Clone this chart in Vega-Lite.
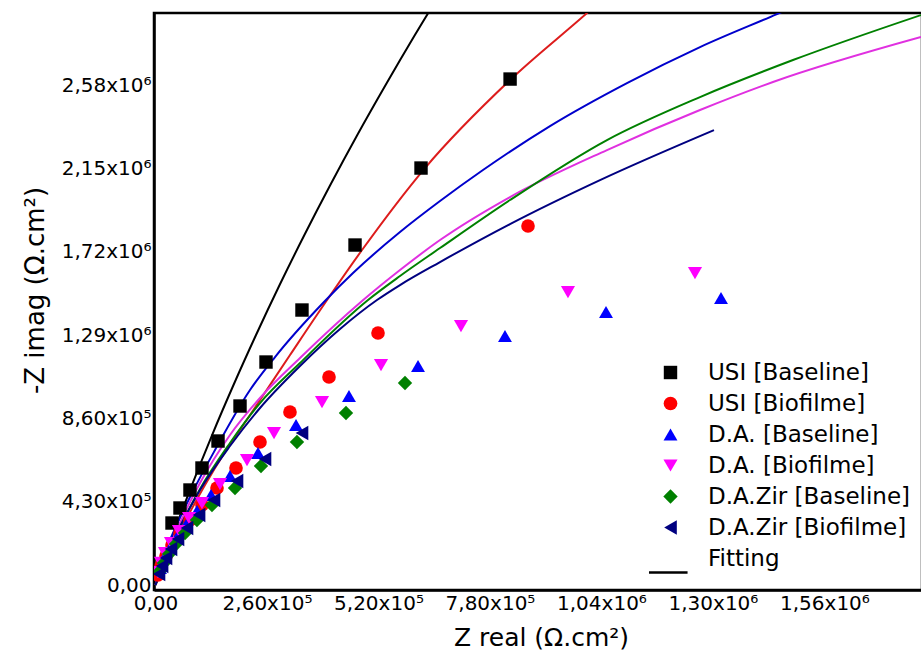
{
  "$schema": "https://vega.github.io/schema/vega-lite/v6.json",
  "width": 768,
  "height": 577,
  "autosize": {"type": "none"},
  "padding": {"left": 154, "top": 13, "right": 0, "bottom": 73},
  "background": "white",
  "config": {
    "view": {"stroke": "black", "strokeWidth": 2.5},
    "font": "DejaVu Sans",
    "axis": {
      "grid": false,
      "ticks": false,
      "domainColor": "black",
      "domainWidth": 2.5,
      "labelColor": "black",
      "labelFont": "DejaVu Sans",
      "labelFontSize": 20,
      "titleFont": "DejaVu Sans",
      "titleFontSize": 25,
      "titleFontWeight": "normal",
      "titleColor": "black",
      "labelOverlap": false,
      "labelFlush": false
    },
    "legend": {
      "labelFont": "DejaVu Sans",
      "labelFontSize": 23,
      "labelColor": "black",
      "labelLimit": 400,
      "symbolOpacity": 1,
      "symbolSize": 150
    }
  },
  "datasets": {
    "points": [
      {"series": "USI [Baseline]", "zr": 826900, "zi": 2612000},
      {"series": "USI [Baseline]", "zr": 619200, "zi": 2152600},
      {"series": "USI [Baseline]", "zr": 465300, "zi": 1755100},
      {"series": "USI [Baseline]", "zr": 341600, "zi": 1419600},
      {"series": "USI [Baseline]", "zr": 257700, "zi": 1151100},
      {"series": "USI [Baseline]", "zr": 197100, "zi": 924000},
      {"series": "USI [Baseline]", "zr": 145800, "zi": 743300},
      {"series": "USI [Baseline]", "zr": 108400, "zi": 604000},
      {"series": "USI [Baseline]", "zr": 80400, "zi": 490400},
      {"series": "USI [Baseline]", "zr": 57100, "zi": 397500},
      {"series": "USI [Baseline]", "zr": 38500, "zi": 320000},

      {"series": "USI [Biofilme]", "zr": 868700, "zi": 1853200},
      {"series": "USI [Biofilme]", "zr": 518900, "zi": 1300800},
      {"series": "USI [Biofilme]", "zr": 404600, "zi": 1073700},
      {"series": "USI [Biofilme]", "zr": 313600, "zi": 893000},
      {"series": "USI [Biofilme]", "zr": 243700, "zi": 738200},
      {"series": "USI [Biofilme]", "zr": 187700, "zi": 604000},
      {"series": "USI [Biofilme]", "zr": 143400, "zi": 500700},
      {"series": "USI [Biofilme]", "zr": 108400, "zi": 413000},
      {"series": "USI [Biofilme]", "zr": 80400, "zi": 335500},
      {"series": "USI [Biofilme]", "zr": 57100, "zi": 268400},
      {"series": "USI [Biofilme]", "zr": 38500, "zi": 206500},
      {"series": "USI [Biofilme]", "zr": 24500, "zi": 149700},
      {"series": "USI [Biofilme]", "zr": 12800, "zi": 98100},
      {"series": "USI [Biofilme]", "zr": 5800, "zi": 51600},

      {"series": "D.A. [Baseline]", "zr": 1318800, "zi": 1481500},
      {"series": "D.A. [Baseline]", "zr": 1050600, "zi": 1409200},
      {"series": "D.A. [Baseline]", "zr": 815000, "zi": 1285300},
      {"series": "D.A. [Baseline]", "zr": 612200, "zi": 1130500},
      {"series": "D.A. [Baseline]", "zr": 451200, "zi": 975600},
      {"series": "D.A. [Baseline]", "zr": 327700, "zi": 825900},
      {"series": "D.A. [Baseline]", "zr": 239000, "zi": 681400},
      {"series": "D.A. [Baseline]", "zr": 173700, "zi": 562700},
      {"series": "D.A. [Baseline]", "zr": 129500, "zi": 464600},
      {"series": "D.A. [Baseline]", "zr": 96700, "zi": 382000},
      {"series": "D.A. [Baseline]", "zr": 71100, "zi": 309700},
      {"series": "D.A. [Baseline]", "zr": 50200, "zi": 247800},
      {"series": "D.A. [Baseline]", "zr": 33800, "zi": 191000},
      {"series": "D.A. [Baseline]", "zr": 19800, "zi": 139400},
      {"series": "D.A. [Baseline]", "zr": 10500, "zi": 87800},

      {"series": "D.A. [Biofilme]", "zr": 1258100, "zi": 1610500},
      {"series": "D.A. [Biofilme]", "zr": 961900, "zi": 1512500},
      {"series": "D.A. [Biofilme]", "zr": 712400, "zi": 1337000},
      {"series": "D.A. [Biofilme]", "zr": 525900, "zi": 1135600},
      {"series": "D.A. [Biofilme]", "zr": 388300, "zi": 944600},
      {"series": "D.A. [Biofilme]", "zr": 276400, "zi": 784600},
      {"series": "D.A. [Biofilme]", "zr": 213400, "zi": 645300},
      {"series": "D.A. [Biofilme]", "zr": 150400, "zi": 521400},
      {"series": "D.A. [Biofilme]", "zr": 108400, "zi": 423300},
      {"series": "D.A. [Biofilme]", "zr": 78200, "zi": 345900},
      {"series": "D.A. [Biofilme]", "zr": 54800, "zi": 278700},
      {"series": "D.A. [Biofilme]", "zr": 36100, "zi": 216800},
      {"series": "D.A. [Biofilme]", "zr": 22100, "zi": 165200},
      {"series": "D.A. [Biofilme]", "zr": 12800, "zi": 113600},
      {"series": "D.A. [Biofilme]", "zr": 5800, "zi": 67100},

      {"series": "D.A.Zir [Baseline]", "zr": 581800, "zi": 1042700},
      {"series": "D.A.Zir [Baseline]", "zr": 444200, "zi": 887900},
      {"series": "D.A.Zir [Baseline]", "zr": 329900, "zi": 738200},
      {"series": "D.A.Zir [Baseline]", "zr": 246000, "zi": 614300},
      {"series": "D.A.Zir [Baseline]", "zr": 185400, "zi": 500700},
      {"series": "D.A.Zir [Baseline]", "zr": 131700, "zi": 413000},
      {"series": "D.A.Zir [Baseline]", "zr": 96700, "zi": 335500},
      {"series": "D.A.Zir [Baseline]", "zr": 68800, "zi": 268400},
      {"series": "D.A.Zir [Baseline]", "zr": 47800, "zi": 211600},
      {"series": "D.A.Zir [Baseline]", "zr": 31500, "zi": 160000},
      {"series": "D.A.Zir [Baseline]", "zr": 19800, "zi": 113600},
      {"series": "D.A.Zir [Baseline]", "zr": 10500, "zi": 72300},

      {"series": "D.A.Zir [Biofilme]", "zr": 341600, "zi": 784600},
      {"series": "D.A.Zir [Biofilme]", "zr": 255300, "zi": 650400},
      {"series": "D.A.Zir [Biofilme]", "zr": 190100, "zi": 536800},
      {"series": "D.A.Zir [Biofilme]", "zr": 136400, "zi": 438800},
      {"series": "D.A.Zir [Biofilme]", "zr": 101500, "zi": 361300},
      {"series": "D.A.Zir [Biofilme]", "zr": 73400, "zi": 294200},
      {"series": "D.A.Zir [Biofilme]", "zr": 52500, "zi": 237500},
      {"series": "D.A.Zir [Biofilme]", "zr": 36100, "zi": 185800},
      {"series": "D.A.Zir [Biofilme]", "zr": 24500, "zi": 139400},
      {"series": "D.A.Zir [Biofilme]", "zr": 15200, "zi": 98100},
      {"series": "D.A.Zir [Biofilme]", "zr": 8200, "zi": 56800}
    ],
    "fits": [
      {"curve": "fit black", "zr": 0, "zi": 0},
      {"curve": "fit black", "zr": 40600, "zi": 258100},
      {"curve": "fit black", "zr": 85000, "zi": 516200},
      {"curve": "fit black", "zr": 132000, "zi": 774300},
      {"curve": "fit black", "zr": 181900, "zi": 1032400},
      {"curve": "fit black", "zr": 234400, "zi": 1290500},
      {"curve": "fit black", "zr": 289400, "zi": 1548600},
      {"curve": "fit black", "zr": 347200, "zi": 1806700},
      {"curve": "fit black", "zr": 407600, "zi": 2064800},
      {"curve": "fit black", "zr": 470600, "zi": 2322900},
      {"curve": "fit black", "zr": 536600, "zi": 2581000},
      {"curve": "fit black", "zr": 604900, "zi": 2839100},
      {"curve": "fit black", "zr": 676000, "zi": 3097200},

      {"curve": "fit red", "zr": 0, "zi": 0},
      {"curve": "fit red", "zr": 17500, "zi": 103200},
      {"curve": "fit red", "zr": 45500, "zi": 232300},
      {"curve": "fit red", "zr": 80500, "zi": 376800},
      {"curve": "fit red", "zr": 115400, "zi": 516200},
      {"curve": "fit red", "zr": 162100, "zi": 686500},
      {"curve": "fit red", "zr": 220400, "zi": 877500},
      {"curve": "fit red", "zr": 313700, "zi": 1187300},
      {"curve": "fit red", "zr": 395300, "zi": 1455700},
      {"curve": "fit red", "zr": 481600, "zi": 1729300},
      {"curve": "fit red", "zr": 628500, "zi": 2152600},
      {"curve": "fit red", "zr": 826700, "zi": 2606800},
      {"curve": "fit red", "zr": 1006300, "zi": 2952700},
      {"curve": "fit red", "zr": 1048200, "zi": 3035300},

      {"curve": "fit blue", "zr": 0, "zi": 0},
      {"curve": "fit blue", "zr": 10500, "zi": 103200},
      {"curve": "fit blue", "zr": 33800, "zi": 232300},
      {"curve": "fit blue", "zr": 80500, "zi": 454300},
      {"curve": "fit blue", "zr": 138800, "zi": 696900},
      {"curve": "fit blue", "zr": 220400, "zi": 1006600},
      {"curve": "fit blue", "zr": 278700, "zi": 1176900},
      {"curve": "fit blue", "zr": 390600, "zi": 1455700},
      {"curve": "fit blue", "zr": 460600, "zi": 1610500},
      {"curve": "fit blue", "zr": 570200, "zi": 1822200},
      {"curve": "fit blue", "zr": 663500, "zi": 1982200},
      {"curve": "fit blue", "zr": 763700, "zi": 2142200},
      {"curve": "fit blue", "zr": 920000, "zi": 2369400},
      {"curve": "fit blue", "zr": 1099500, "zi": 2591300},
      {"curve": "fit blue", "zr": 1269800, "zi": 2777200},
      {"curve": "fit blue", "zr": 1449300, "zi": 2947500},
      {"curve": "fit blue", "zr": 1503000, "zi": 2999100},

      {"curve": "fit magenta", "zr": 0, "zi": 0},
      {"curve": "fit magenta", "zr": 45500, "zi": 263300},
      {"curve": "fit magenta", "zr": 103800, "zi": 526500},
      {"curve": "fit magenta", "zr": 173700, "zi": 774300},
      {"curve": "fit magenta", "zr": 243700, "zi": 965300},
      {"curve": "fit magenta", "zr": 337000, "zi": 1171800},
      {"curve": "fit magenta", "zr": 481600, "zi": 1466000},
      {"curve": "fit magenta", "zr": 570200, "zi": 1626000},
      {"curve": "fit magenta", "zr": 663500, "zi": 1780900},
      {"curve": "fit magenta", "zr": 826700, "zi": 2002900},
      {"curve": "fit magenta", "zr": 1052900, "zi": 2245500},
      {"curve": "fit magenta", "zr": 1269800, "zi": 2452000},
      {"curve": "fit magenta", "zr": 1440000, "zi": 2596500},
      {"curve": "fit magenta", "zr": 1785100, "zi": 2828800},

      {"curve": "fit green", "zr": 0, "zi": 0},
      {"curve": "fit green", "zr": 45500, "zi": 242600},
      {"curve": "fit green", "zr": 103800, "zi": 495600},
      {"curve": "fit green", "zr": 173700, "zi": 733000},
      {"curve": "fit green", "zr": 243700, "zi": 939500},
      {"curve": "fit green", "zr": 337000, "zi": 1146000},
      {"curve": "fit green", "zr": 495600, "zi": 1471200},
      {"curve": "fit green", "zr": 570200, "zi": 1595100},
      {"curve": "fit green", "zr": 663500, "zi": 1739600},
      {"curve": "fit green", "zr": 826700, "zi": 1987400},
      {"curve": "fit green", "zr": 1052900, "zi": 2297100},
      {"curve": "fit green", "zr": 1269800, "zi": 2519100},
      {"curve": "fit green", "zr": 1486700, "zi": 2710100},
      {"curve": "fit green", "zr": 1785100, "zi": 2942300},

      {"curve": "fit navy", "zr": 0, "zi": 0},
      {"curve": "fit navy", "zr": 45500, "zi": 247800},
      {"curve": "fit navy", "zr": 103800, "zi": 490400},
      {"curve": "fit navy", "zr": 173700, "zi": 717500},
      {"curve": "fit navy", "zr": 243700, "zi": 913700},
      {"curve": "fit navy", "zr": 337000, "zi": 1130500},
      {"curve": "fit navy", "zr": 430300, "zi": 1321500},
      {"curve": "fit navy", "zr": 516500, "zi": 1471200},
      {"curve": "fit navy", "zr": 570200, "zi": 1548600},
      {"curve": "fit navy", "zr": 663500, "zi": 1667300},
      {"curve": "fit navy", "zr": 826700, "zi": 1863500},
      {"curve": "fit navy", "zr": 1036600, "zi": 2090600},
      {"curve": "fit navy", "zr": 1302400, "zi": 2348700}
    ]
  },
  "layer": [
    {
      "data": {"name": "fits"},
      "mark": {"type": "line", "clip": true, "strokeWidth": 2, "interpolate": "monotone"},
      "encoding": {
        "x": {
          "field": "zr",
          "type": "quantitative",
          "scale": {"domain": [-3500, 1787500], "nice": false, "zero": false},
          "axis": {
            "title": "Z real (Ω.cm²)",
            "values": [0, 260000, 520000, 780000, 1040000, 1300000, 1560000],
            "labelExpr": "datum.value == 0 ? '0,00' : (datum.value < 1000000 ? replace(format(datum.value / 100000, '.2f'), '.', ',') + 'x10⁵' : replace(format(datum.value / 1000000, '.2f'), '.', ',') + 'x10⁶')",
            "labelPadding": 3,
            "titleX": 387,
            "titleY": 47,
            "titleAlign": "center",
            "titleBaseline": "middle"
          }
        },
        "y": {
          "field": "zi",
          "type": "quantitative",
          "scale": {"domain": [-25800, 2953000], "nice": false, "zero": false},
          "axis": {
            "title": "-Z imag (Ω.cm²)",
            "values": [0, 430000, 860000, 1290000, 1720000, 2150000, 2580000],
            "labelExpr": "datum.value == 0 ? '0,00' : (datum.value < 1000000 ? replace(format(datum.value / 100000, '.2f'), '.', ',') + 'x10⁵' : replace(format(datum.value / 1000000, '.2f'), '.', ',') + 'x10⁶')",
            "labelPadding": 3,
            "titleX": -119,
            "titleY": 277,
            "titleAngle": 270,
            "titleAlign": "center",
            "titleBaseline": "middle",
            "titleFontSize": 26
          }
        },
        "stroke": {
          "field": "curve",
          "type": "nominal",
          "scale": {
            "domain": ["fit black", "fit red", "fit blue", "fit magenta", "fit green", "fit navy"],
            "range": ["#000000", "#dd1c1c", "#0000cc", "#e030e0", "#008000", "#000080"]
          },
          "legend": null
        }
      }
    },
    {
      "data": {"name": "points"},
      "mark": {"type": "point", "filled": true, "opacity": 1, "clip": true},
      "encoding": {
        "x": {"field": "zr", "type": "quantitative"},
        "y": {"field": "zi", "type": "quantitative"},
        "color": {
          "field": "series",
          "type": "nominal",
          "scale": {
            "domain": ["USI [Baseline]", "USI [Biofilme]", "D.A. [Baseline]", "D.A. [Biofilme]", "D.A.Zir [Baseline]", "D.A.Zir [Biofilme]", "Fitting"],
            "range": ["#000000", "#ff0000", "#0000ff", "#ff00ff", "#008000", "#000080", "#000000"]
          },
          "legend": {
            "title": null,
            "orient": "none",
            "legendX": 505,
            "legendY": 348,
            "padding": 0,
            "rowPadding": 7,
            "labelOffset": 26,
            "encode": {
              "symbols": {
                "update": {
                  "stroke": {"signal": "datum.value === 'Fitting' ? 'black' : 'transparent'"},
                  "strokeWidth": {"signal": "datum.value === 'Fitting' ? 2.5 : 0"}
                }
              }
            }
          }
        },
        "shape": {
          "field": "series",
          "type": "nominal",
          "scale": {
            "domain": ["USI [Baseline]", "USI [Biofilme]", "D.A. [Baseline]", "D.A. [Biofilme]", "D.A.Zir [Baseline]", "D.A.Zir [Biofilme]", "Fitting"],
            "range": ["square", "circle", "triangle-up", "triangle-down", "diamond", "triangle-left", "M-2.9,1.9L2.3,1.9"]
          },
          "legend": {
            "title": null,
            "orient": "none",
            "legendX": 505,
            "legendY": 348,
            "padding": 0,
            "rowPadding": 7,
            "labelOffset": 26,
            "encode": {
              "symbols": {
                "update": {
                  "stroke": {"signal": "datum.value === 'Fitting' ? 'black' : 'transparent'"},
                  "strokeWidth": {"signal": "datum.value === 'Fitting' ? 2.5 : 0"}
                }
              }
            }
          }
        },
        "size": {
          "field": "series",
          "type": "nominal",
          "scale": {
            "domain": ["USI [Baseline]", "USI [Biofilme]", "D.A. [Baseline]", "D.A. [Biofilme]", "D.A.Zir [Baseline]", "D.A.Zir [Biofilme]", "Fitting"],
            "range": [180, 220, 400, 400, 290, 380, 100]
          },
          "legend": null
        }
      }
    }
  ]
}
